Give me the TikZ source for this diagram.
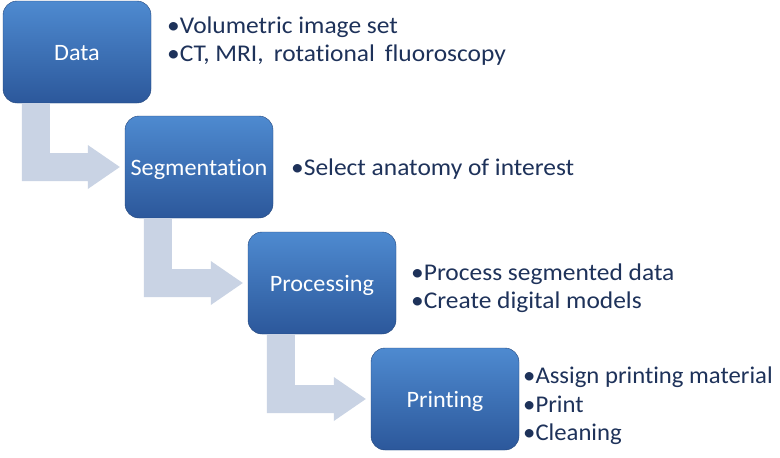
\documentclass[tikz,border=0pt]{standalone}
\usepackage{fontspec}
\setmainfont{Carlito}[Ligatures=NoCommon]
\usetikzlibrary{calc}
\definecolor{boxtop}{RGB}{78,138,208}
\definecolor{boxbot}{RGB}{44,88,155}
\definecolor{arrowfill}{RGB}{201,211,228}
\definecolor{txtdark}{RGB}{30,50,90}
\newcommand{\wtext}[2]{\scalebox{#1}[1]{#2}}
\tikzset{
  stepbox/.style={rounded corners=14pt, minimum width=148pt, minimum height=102pt,
    top color=boxtop, bottom color=boxbot, draw=boxbot!80!black, line width=0.4pt,
    text=white, font=\fontsize{23.5}{26}\selectfont, inner sep=0pt,
    text height=16pt, text depth=0pt},
  bul/.style={anchor=base west, text=txtdark, font=\fontsize{24}{26}\selectfont, inner sep=0pt},
}
\newcommand{\bentarrow}[2]{%
  \fill[arrowfill] let \p1=(#1.south west), \p2=(#2.west) in
    (\x1+19pt,\y1) -- (\x1+19pt,\y2-14pt) -- (\x2-37pt,\y2-14pt) -- (\x2-37pt,\y2-22pt)
    -- (\x2-5pt,\y2) -- (\x2-37pt,\y2+22pt) -- (\x2-37pt,\y2+14pt) -- (\x1+47pt,\y2+14pt)
    -- (\x1+47pt,\y1) -- cycle;}
\begin{document}
\begin{tikzpicture}[x=1pt,y=-1pt]
\useasboundingbox[fill=white] (0,0) rectangle (780,458);
\node[stepbox] (data) at (77,52) {\wtext{1.03}{Data}};
\node[stepbox] (seg) at (199,167) {\wtext{1.03}{Segmentation}};
\node[stepbox] (proc) at (322,283) {\wtext{1.03}{Processing}};
\node[stepbox] (print) at (445,399) {\wtext{1.03}{Printing}};
\bentarrow{data}{seg}
\bentarrow{seg}{proc}
\bentarrow{proc}{print}
\node[bul] (t1) at (167,33) {\wtext{1.06}{•Volumetric image set}};
\node[bul] (t2) at (167,61) {\wtext{1.06}{•CT, MRI,\, rotational\, fluoroscopy}};
\node[bul] (t3) at (291,175) {\wtext{1.06}{•Select anatomy of interest}};
\node[bul] (t4) at (411,280) {\wtext{1.06}{•Process segmented data}};
\node[bul] (t5) at (411,308) {\wtext{1.06}{•Create digital models}};
\node[bul] (t6) at (523,383) {\wtext{1.03}{•Assign printing material}};
\node[bul] (t7) at (523,412) {\wtext{1.03}{•Print}};
\node[bul] (t8) at (523,440) {\wtext{1.03}{•Cleaning}};
\end{tikzpicture}
\end{document}
